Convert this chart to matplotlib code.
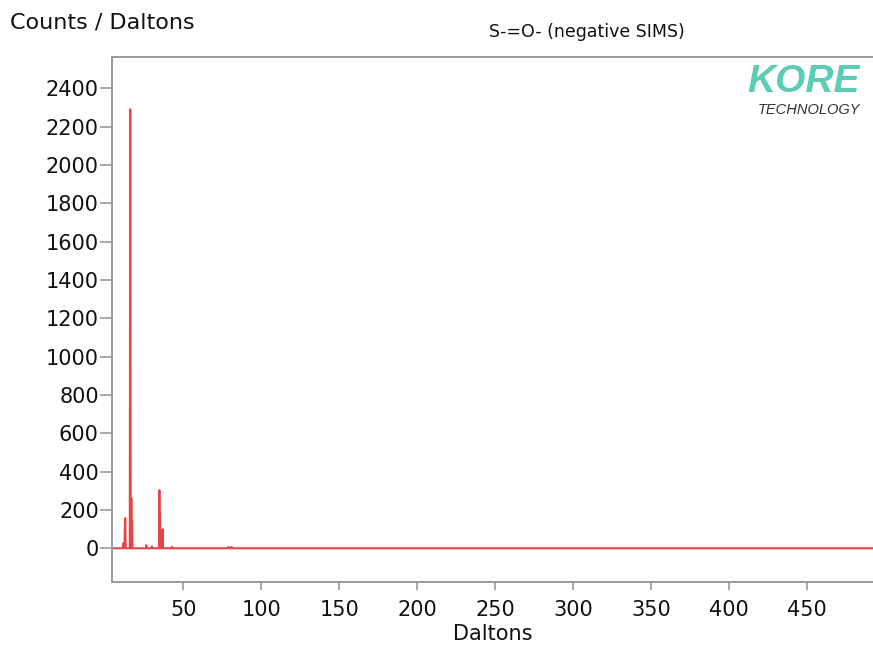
import matplotlib.pyplot as plt

# spectrum profile (Daltons, counts)
spec_mass = [4.3, 11.2, 11.5, 11.8, 12.3, 12.5, 12.8, 13.1, 15.7, 16.0, 16.3,
             16.5, 16.7, 16.9, 17.0, 17.2, 17.5, 26.0, 26.3, 26.6, 29.6, 29.9,
             30.2, 34.4, 34.7, 34.9, 35.1, 35.4, 36.4, 36.7, 37.0, 42.5, 42.8,
             43.1, 78.6, 79.0, 79.4, 80.6, 81.0, 81.4, 492.5]
spec_counts = [0, 0, 25, 0, 0, 100, 157, 0, 0, 2290, 0,
               0, 260, 0, 0, 146, 0, 0, 15, 0, 0, 10,
               0, 0, 303, 0, 188, 0, 0, 100, 0, 0, 8,
               0, 0, 7, 0, 0, 7, 0, 0]

x_ticks = [50, 100, 150, 200, 250, 300, 350, 400, 450]
y_ticks = [0, 200, 400, 600, 800, 1000, 1200, 1400, 1600, 1800, 2000, 2200, 2400]

fig = plt.figure(figsize=(8.73, 6.46), dpi=100)
ax = fig.add_axes([112 / 873, 1 - 582 / 646, 1 - 112 / 873, (582 - 57) / 646])

ax.plot(spec_mass, spec_counts, color='#e44545', linewidth=1.5)

ax.set_xlim(4.3, 492.5)
ax.set_ylim(-176, 2563)
ax.set_xticks(x_ticks)
ax.set_yticks(y_ticks)

spine_col = '#9a9a9a'
for side in ['left', 'bottom', 'top']:
    ax.spines[side].set_color(spine_col)
    ax.spines[side].set_linewidth(1.4)
ax.spines['right'].set_visible(False)

ax.tick_params(axis='y', direction='out', length=8.5, width=1.2, color=spine_col,
               labelsize=15, labelcolor='#111111', pad=1)
ax.tick_params(axis='x', direction='out', length=6, width=1.2, color=spine_col,
               labelsize=15, labelcolor='#111111', pad=7)

ax.set_xlabel('Daltons', fontsize=15, color='#111111', labelpad=3)

fig.text(10 / 873, 1 - 22 / 646, 'Counts / Daltons', fontsize=16, color='#111111',
         ha='left', va='center')
fig.text(587 / 873, 1 - 32 / 646, 'S-=O- (negative SIMS)', fontsize=12.5,
         color='#111111', ha='center', va='center')

# logo
fig.text(860 / 873, 1 - 82 / 646, 'KORE', fontsize=28, fontweight='bold',
         fontstyle='italic', family='Liberation Sans', color='#5ccdb5',
         ha='right', va='center')
fig.text(860 / 873, 1 - 110 / 646, 'TECHNOLOGY', fontsize=10.5, fontstyle='italic',
         family='Liberation Sans', color='#333333', ha='right', va='center')

fig.savefig('out.png', dpi=100)
